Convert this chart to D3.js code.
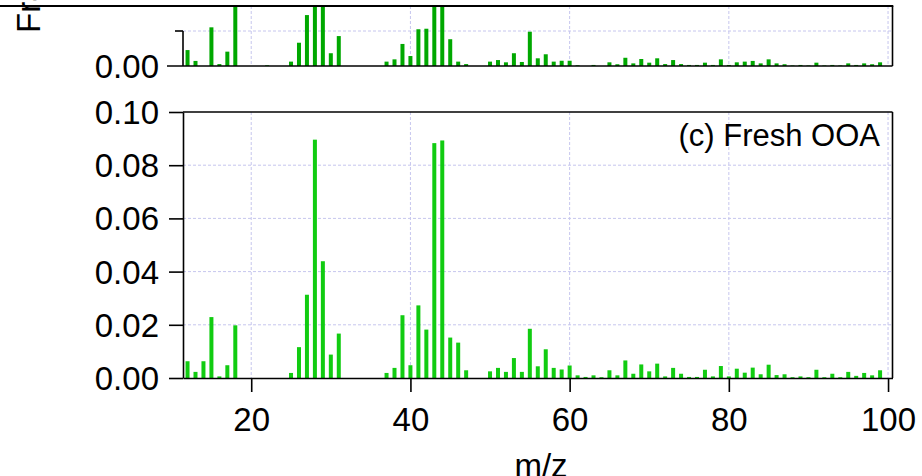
<!DOCTYPE html>
<html>
<head>
<meta charset="utf-8">
<script src="https://cdn.jsdelivr.net/npm/d3@7"></script>
<style>
  html, body { margin: 0; padding: 0; background: #fff; }
  svg { display: block; font-family: "Liberation Sans", Arial, sans-serif; }
</style>
</head>
<body>
<svg id="chart" width="922" height="476"></svg>
<script>
// m/z channels shown in both spectra
const mz = [12,13,14,15,16,17,18,19,20,21,22,23,24,25,26,27,28,29,30,31,
            32,33,34,35,36,37,38,39,40,41,42,43,44,45,46,47,48,49,50,51,
            52,53,54,55,56,57,58,59,60,61,62,63,64,65,66,67,68,69,70,71,
            72,73,74,75,76,77,78,79,80,81,82,83,84,85,86,87,88,89,90,91,
            92,93,94,95,96,97,98,99];

// (b) spectrum, upper panel (clipped at the panel top)
const spectrumB = [0.0091,0.0029,0,0.0221,0.0011,0.0082,0.045,0,0,0,0.0004,0,0,0.0025,0.0133,0.0291,0.07,0.05,0.0073,0.0171,
                   0,0,0,0,0,0.0025,0.0038,0.0126,0.0057,0.021,0.0213,0.06,0.055,0.0153,0.0025,0.0011,0,0,0.0025,0.0034,
                   0.0021,0.0073,0.0023,0.0196,0.0044,0.0067,0.0025,0.003,0.003,0.0004,0,0.0006,0,0.0021,0.001,0.0047,0.0015,0.004,0.0019,0.0044,
                   0.0011,0.0034,0.0011,0.0006,0.0006,0.0019,0.0006,0.0038,0.0006,0.0021,0.0025,0.0029,0.0015,0.0038,0.0015,0.001,0.0003,0.0006,0.0003,0.0019,
                   0.0003,0.0006,0.0003,0.0015,0.0006,0.0015,0.001,0.0021];

// (c) Fresh OOA spectrum
const freshOOA = [0.0063,0.0023,0.0063,0.0229,0.0006,0.0048,0.0198,0,0,0,0,0,0,0.0019,0.0116,0.0313,0.0896,0.0439,0.0088,0.0167,
                  0,0,0,0,0,0.0019,0.0038,0.0236,0.0048,0.0273,0.0182,0.0883,0.0893,0.0152,0.0133,0.0029,0,0,0.0025,0.0038,
                  0.0023,0.0075,0.0023,0.0185,0.0044,0.0108,0.0038,0.0032,0.0047,0.0010,0.0004,0.0010,0.0003,0.0029,0.0010,0.0066,0.0016,0.0051,0.0025,0.0054,
                  0.0006,0.0038,0.0016,0.0004,0.0004,0.0031,0.0006,0.0045,0.0006,0.0035,0.0020,0.0039,0.0014,0.0050,0.0011,0.0014,0.0003,0.0006,0.0003,0.0031,
                  0.0003,0.0016,0.0003,0.0023,0.0008,0.0019,0.0010,0.0029];

const xTicks = [20, 40, 60, 80, 100];
const yTicksC = [0, 0.02, 0.04, 0.06, 0.08, 0.10];
const yTicksB = [0, 0.02];
const panelLabel = "(c) Fresh OOA";
const xTitle = "m/z";
const yTitle = "Fraction of Signal";

const svg = d3.select("#chart");
const W = 922;

const left = 183, right = 892.5;
const x = d3.scaleLinear().domain([11.43, 100.56]).range([left, right]);

// lower panel geometry
const cTop = 112, cBottom = 378;
const yC = d3.scaleLinear().domain([0, 0.10]).range([cBottom, cTop]);

// upper panel geometry
const bTop = 6, bBottom = 66;
const yB = d3.scaleLinear().domain([0, 0.02]).range([bBottom, 31]);

const gridColor = "#c6c6ee";
const barW = 4;

// ---- grids ----
const grid = svg.append("g").attr("stroke", gridColor).attr("stroke-width", 1)
  .attr("stroke-dasharray", "3,2").attr("fill", "none");

grid.selectAll(".gxc").data(xTicks).join("line")
  .attr("x1", d => x(d)).attr("x2", d => x(d)).attr("y1", cTop).attr("y2", cBottom);
grid.selectAll(".gyc").data(yTicksC.filter(d => d > 0 && d < 0.1)).join("line")
  .attr("x1", left).attr("x2", right).attr("y1", d => yC(d)).attr("y2", d => yC(d));

grid.append("g").selectAll("line").data(xTicks).join("line")
  .attr("x1", d => x(d)).attr("x2", d => x(d)).attr("y1", bTop).attr("y2", bBottom);
grid.append("g").selectAll("line").data(yTicksB.filter(d => d > 0)).join("line")
  .attr("x1", left).attr("x2", right).attr("y1", d => yB(d)).attr("y2", d => yB(d));

// ---- bars ----
svg.append("clipPath").attr("id", "clipB")
  .append("rect").attr("x", left).attr("y", bTop).attr("width", right - left).attr("height", bBottom - bTop);

svg.append("g").attr("clip-path", "url(#clipB)")
  .selectAll("rect").data(mz.map((m, i) => ({ m, v: spectrumB[i] })).filter(d => d.v > 0)).join("rect")
  .attr("x", d => x(d.m) - barW / 2).attr("width", barW)
  .attr("y", d => yB(d.v)).attr("height", d => yB(0) - yB(d.v))
  .attr("fill", "#00a800");

svg.append("g")
  .selectAll("rect").data(mz.map((m, i) => ({ m, v: freshOOA[i] })).filter(d => d.v > 0)).join("rect")
  .attr("x", d => x(d.m) - barW / 2).attr("width", barW)
  .attr("y", d => yC(d.v)).attr("height", d => yC(0) - yC(d.v))
  .attr("fill", "#11cc11");

// ---- axes ----
const fontSize = 33;

const xAxis = svg.append("g").attr("transform", `translate(0,${cBottom})`)
  .call(d3.axisBottom(x).tickValues(xTicks).tickFormat(d3.format("d"))
    .tickSize(14).tickSizeOuter(0).tickPadding(16));
const yAxisC = svg.append("g").attr("transform", `translate(${left},0)`)
  .call(d3.axisLeft(yC).tickValues(yTicksC).tickFormat(d3.format(".2f"))
    .tickSize(14).tickSizeOuter(0).tickPadding(10));

[xAxis, yAxisC].forEach(g => {
  g.select(".domain").attr("stroke", "#000").attr("stroke-width", 1.6);
  g.selectAll(".tick line").attr("stroke", "#000").attr("stroke-width", 1.6);
  g.selectAll(".tick text").attr("font-size", fontSize).attr("fill", "#000")
    .attr("font-family", "Liberation Sans, Arial, sans-serif");
});
yAxisC.selectAll(".tick text").attr("dy", "0.35em");

// lower frame (top and right)
const frame = svg.append("g").attr("stroke", "#000").attr("stroke-width", 1.6).attr("fill", "none");
frame.append("line").attr("x1", left).attr("x2", right).attr("y1", cTop).attr("y2", cTop);
frame.append("line").attr("x1", right).attr("x2", right).attr("y1", cTop).attr("y2", cBottom);

// upper panel axes
frame.append("line").attr("x1", left - 16).attr("x2", right).attr("y1", yB(0)).attr("y2", yB(0));
frame.append("line").attr("x1", left).attr("x2", left).attr("y1", yB(0.02)).attr("y2", yB(0));
frame.append("line").attr("x1", left - 8).attr("x2", left).attr("y1", yB(0.02)).attr("y2", yB(0.02));
frame.append("line").attr("x1", right).attr("x2", right).attr("y1", bTop).attr("y2", bBottom);

svg.append("text").attr("x", left - 24).attr("y", yB(0)).attr("dy", "0.35em")
  .attr("text-anchor", "end").attr("font-size", fontSize).text(d3.format(".2f")(yTicksB[0]));

// ---- labels ----
svg.append("text").attr("x", 880).attr("y", 145.7).attr("text-anchor", "end")
  .attr("font-size", 31).text(panelLabel);

svg.append("text").attr("x", 541).attr("y", 477).attr("text-anchor", "middle")
  .attr("font-size", fontSize).text(xTitle);

svg.append("text").attr("transform", "translate(40,33) rotate(-90)")
  .attr("text-anchor", "start").attr("font-size", fontSize).text(yTitle);

// rule along the top edge
svg.append("line").attr("x1", 0).attr("x2", right + 0.8).attr("y1", bTop).attr("y2", bTop)
  .attr("stroke", "#000").attr("stroke-width", 2);
</script>
</body>
</html>
